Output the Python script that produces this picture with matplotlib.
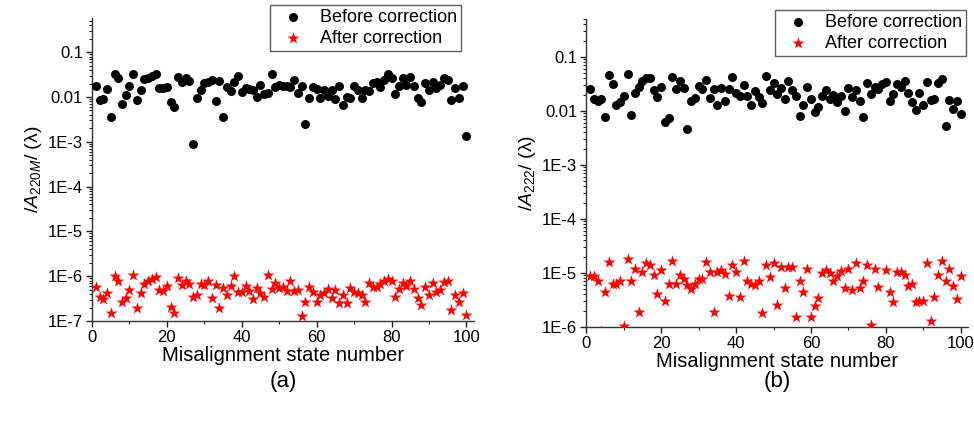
import numpy as np
import matplotlib
matplotlib.use("Agg")
import matplotlib.pyplot as plt
from matplotlib.ticker import LogLocator, FixedLocator, MultipleLocator, NullFormatter

plt.rcParams['font.family'] = ['Liberation Sans', 'DejaVu Sans']
plt.rcParams['mathtext.fontset'] = 'custom'
plt.rcParams['mathtext.rm'] = 'Liberation Sans'
plt.rcParams['mathtext.it'] = 'Liberation Sans:italic'

# misalignment state numbers
states = np.arange(1, 101)

# (a) |A220M| before / after correction
a_before = [
    0.0172, 0.0087, 0.0089, 0.015, 0.0036, 0.032, 0.027, 0.0071, 0.011, 0.018,
    0.032, 0.0087, 0.014, 0.025, 0.026, 0.029, 0.032, 0.016, 0.016, 0.017,
    0.0076, 0.0059, 0.028, 0.022, 0.026, 0.023, 0.0009, 0.0095, 0.0145, 0.021,
    0.022, 0.024, 0.008, 0.023, 0.0036, 0.017, 0.0138, 0.022, 0.030, 0.013,
    0.0155, 0.015, 0.014, 0.0102, 0.019, 0.0117, 0.012, 0.032, 0.0165, 0.019,
    0.0178, 0.0172, 0.017, 0.024, 0.012, 0.0172, 0.0025, 0.0094, 0.0165, 0.015,
    0.0095, 0.0145, 0.0104, 0.0145, 0.009, 0.0178, 0.0067, 0.0102, 0.0094, 0.0172,
    0.0145, 0.0095, 0.0145, 0.0134, 0.021, 0.022, 0.0165, 0.024, 0.032, 0.027,
    0.0117, 0.0178, 0.026, 0.0185, 0.028, 0.0178, 0.0095, 0.0076, 0.021, 0.0145,
    0.022, 0.0155, 0.019, 0.026, 0.024, 0.0087, 0.0155, 0.0095, 0.0172, 0.00135,
]
a_after = [
    5.8e-7, 3.5e-7, 3.1e-7, 4.3e-7, 1.5e-7, 1.0e-6, 7.7e-7, 2.7e-7, 3.3e-7, 4.9e-7,
    1.08e-6, 2.0e-7, 4.3e-7, 6.8e-7, 8.0e-7, 8.7e-7, 9.5e-7, 4.9e-7, 4.6e-7, 6.0e-7,
    2.1e-7, 1.5e-7, 9.0e-7, 6.5e-7, 8.0e-7, 6.8e-7, 3.5e-7, 3.9e-7, 6.8e-7, 6.3e-7,
    8.0e-7, 3.2e-7, 6.5e-7, 1.95e-7, 5.5e-7, 3.8e-7, 6.1e-7, 1.0e-6, 4.5e-7, 4.5e-7,
    5.9e-7, 4.6e-7, 3.1e-7, 5.5e-7, 4.3e-7, 3.5e-7, 1.07e-6, 5.3e-7, 7.0e-7, 5.5e-7,
    5.8e-7, 4.6e-7, 8.0e-7, 4.6e-7, 4.9e-7, 1.28e-7, 2.7e-7, 5.6e-7, 4.5e-7, 2.7e-7,
    3.8e-7, 4.3e-7, 5.2e-7, 3.3e-7, 4.9e-7, 2.5e-7, 3.9e-7, 2.5e-7, 5.5e-7, 4.4e-7,
    4.3e-7, 3.9e-7, 2.7e-7, 7.0e-7, 5.6e-7, 5.6e-7, 6.8e-7, 8.0e-7, 8.7e-7, 8.0e-7,
    3.4e-7, 5.3e-7, 7.0e-7, 6.0e-7, 8.0e-7, 5.3e-7, 3.2e-7, 2.3e-7, 5.6e-7, 3.8e-7,
    7.2e-7, 4.4e-7, 4.9e-7, 7.6e-7, 7.8e-7, 1.8e-7, 3.9e-7, 2.7e-7, 4.2e-7, 1.35e-7,
]

# (b) |A222| before / after correction
b_before = [
    0.0255, 0.0165, 0.0155, 0.0165, 0.0076, 0.046, 0.0316, 0.0126, 0.0145, 0.0187,
    0.048, 0.0083, 0.021, 0.028, 0.035, 0.041, 0.041, 0.024, 0.018, 0.028,
    0.0062, 0.0074, 0.042, 0.0255, 0.035, 0.027, 0.0047, 0.015, 0.0175, 0.029,
    0.0255, 0.037, 0.0175, 0.0255, 0.0126, 0.027, 0.015, 0.025, 0.043, 0.021,
    0.019, 0.030, 0.0187, 0.013, 0.023, 0.018, 0.0137, 0.045, 0.024, 0.033,
    0.0207, 0.027, 0.0165, 0.035, 0.024, 0.019, 0.008, 0.013, 0.028, 0.0167,
    0.0095, 0.012, 0.019, 0.024, 0.0165, 0.020, 0.0145, 0.019, 0.0098, 0.027,
    0.018, 0.024, 0.0155, 0.0076, 0.033, 0.0207, 0.028, 0.0255, 0.0316, 0.034,
    0.015, 0.0207, 0.032, 0.0275, 0.035, 0.0215, 0.0147, 0.0103, 0.0215, 0.013,
    0.034, 0.016, 0.0165, 0.033, 0.038, 0.0052, 0.016, 0.011, 0.0155, 0.0088,
]
b_after = [
    8.9e-6, 8.6e-6, 7.2e-6, 8.5e-7, 4.5e-6, 1.58e-5, 6.3e-6, 6.3e-6, 7.0e-6, 1.06e-6,
    1.78e-5, 7.2e-6, 1.2e-5, 1.86e-6, 1.04e-5, 1.5e-5, 1.4e-5, 9.0e-6, 4.1e-6, 1.15e-5,
    3.0e-6, 6.2e-6, 1.65e-5, 6.3e-6, 9.3e-6, 7.7e-6, 6.0e-6, 5.1e-6, 6.2e-6, 7.8e-6,
    7.8e-6, 1.58e-5, 1.04e-5, 1.86e-6, 1.04e-5, 1.12e-5, 9.6e-6, 3.8e-6, 1.43e-5, 1.04e-5,
    3.6e-6, 1.7e-5, 7.0e-6, 6.2e-6, 6.0e-6, 7.0e-6, 1.84e-6, 1.43e-5, 8.3e-6, 1.54e-5,
    2.6e-6, 1.3e-5, 5.2e-6, 1.3e-5, 1.3e-5, 1.54e-6, 7.2e-6, 4.4e-6, 1.19e-5, 1.54e-6,
    2.4e-6, 3.4e-6, 1.0e-5, 1.12e-5, 1.0e-5, 7.0e-6, 8.6e-6, 1.07e-5, 5.2e-6, 1.2e-5,
    4.9e-6, 1.5e-5, 5.2e-6, 7.2e-6, 1.4e-5, 1.07e-6, 1.19e-5, 5.5e-6, 6.0e-7, 1.15e-5,
    4.4e-6, 2.85e-6, 1.04e-5, 1.04e-5, 9.0e-6, 5.8e-6, 6.3e-6, 2.85e-6, 3.0e-6, 3.05e-6,
    1.54e-5, 1.28e-6, 3.65e-6, 9.0e-6, 1.65e-5, 7.0e-6, 1.19e-5, 5.8e-6, 3.3e-6, 8.9e-6,
]

a_ticks = [1e-7, 1e-6, 1e-5, 1e-4, 1e-3, 0.01, 0.1]
a_ticklabels = ['1E-7', '1E-6', '1E-5', '1E-4', '1E-3', '0.01', '0.1']
b_ticks = [1e-6, 1e-5, 1e-4, 1e-3, 0.01, 0.1]
b_ticklabels = ['1E-6', '1E-5', '1E-4', '1E-3', '0.01', '0.1']


def draw_panel(ax, before, after, ylim, ticks, ticklabels, ylabel, legend_anchor):
    ax.scatter(states, before, s=42, color='black', marker='o', linewidths=0,
               label='Before correction', zorder=3)
    ax.scatter(states, after, s=80, color='red', marker='*', linewidths=0,
               label='After correction', zorder=3)
    ax.set_yscale('log')
    ax.set_ylim(*ylim)
    ax.set_xlim(0, 102)
    ax.yaxis.set_major_locator(FixedLocator(ticks))
    ax.set_yticklabels(ticklabels)
    ax.yaxis.set_minor_locator(LogLocator(base=10, subs=np.arange(2, 10), numticks=20))
    ax.yaxis.set_minor_formatter(NullFormatter())
    ax.xaxis.set_major_locator(MultipleLocator(20))
    ax.xaxis.set_minor_locator(MultipleLocator(10))
    ax.spines['top'].set_visible(False)
    ax.spines['right'].set_visible(False)
    for s in ('left', 'bottom'):
        ax.spines[s].set_color('#333333')
        ax.spines[s].set_linewidth(1.0)
    ax.tick_params(which='major', direction='out', length=4.5, width=1, pad=2,
                   labelsize=12, colors='#222222', labelcolor='black')
    ax.tick_params(which='minor', direction='out', length=2.5, width=0.8,
                   colors='#222222')
    ax.set_xlabel('Misalignment state number', fontsize=14.5, labelpad=1)
    ax.set_ylabel(ylabel, fontsize=14, labelpad=3)
    leg = ax.legend(loc='upper right', bbox_to_anchor=legend_anchor,
                    bbox_transform=fig.transFigure, borderaxespad=0,
                    fontsize=13, frameon=True, fancybox=False, handletextpad=0.4,
                    borderpad=0.2, labelspacing=0.25, scatterpoints=1,
                    handlelength=2.2)
    leg.get_frame().set_edgecolor('#333333')
    leg.get_frame().set_linewidth(1.0)


fig = plt.figure(figsize=(9.74, 4.22), dpi=100)
ax1 = fig.add_axes([0.0945, 1 - 321 / 422, 0.392, (321 - 18) / 422])
ax2 = fig.add_axes([0.602, 1 - 327 / 422, 0.392, (327 - 19) / 422])

draw_panel(ax1, a_before, a_after, (1e-7, 0.58), a_ticks, a_ticklabels,
           r'$\mathit{/A_{220M}/}$ (λ)', (461 / 974, 1 - 5 / 422))
draw_panel(ax2, b_before, b_after, (1e-6, 0.5), b_ticks, b_ticklabels,
           r'$\mathit{/A_{222}/}$ (λ)', (966 / 974, 1 - 10 / 422))

fig.text(283 / 974, 1 - 382 / 422, '(a)', ha='center', va='center', fontsize=16)
fig.text(777 / 974, 1 - 382 / 422, '(b)', ha='center', va='center', fontsize=16)

fig.savefig('out.png', dpi=100)
